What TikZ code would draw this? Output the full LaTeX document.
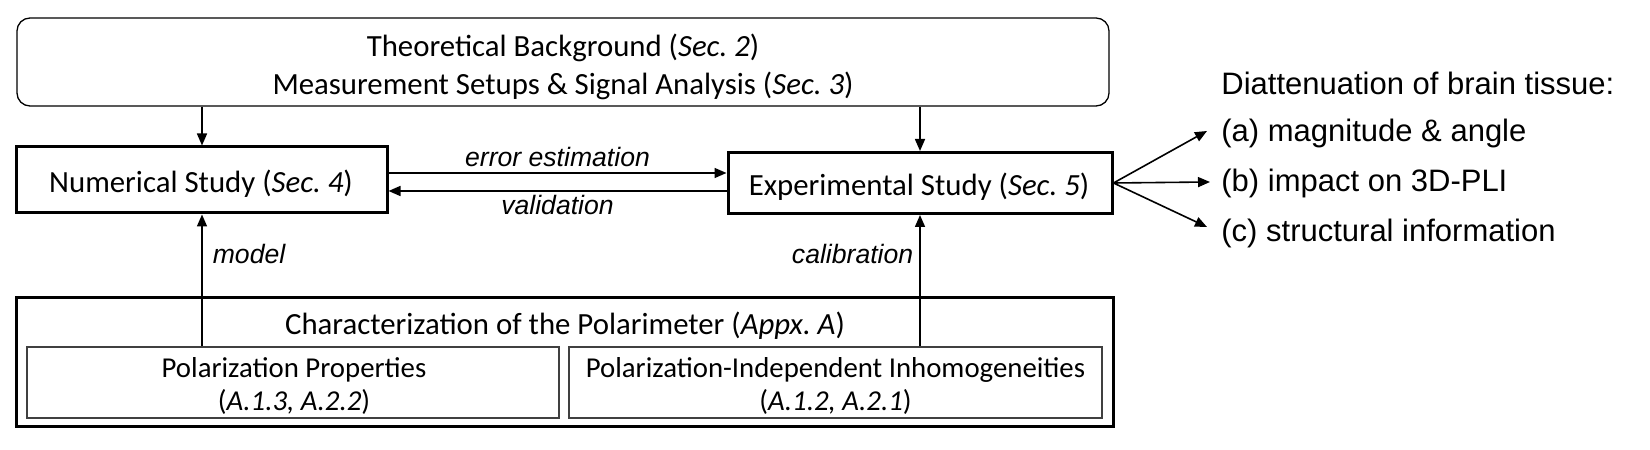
\documentclass[tikz,border=0pt]{standalone}
\usepackage{fontspec}
\setmainfont{Carlito}
\newfontfamily\arialfont{Liberation Sans}
\usetikzlibrary{arrows.meta,calc}
\begin{document}
\begin{tikzpicture}[x=0.5bp,y=-0.5bp,
  maintext/.style={font=\fontsize{15.4bp}{19bp}\selectfont, inner sep=0pt, anchor=base},
  innertext/.style={font=\fontsize{14.4bp}{17bp}\selectfont, inner sep=0pt, anchor=base},
  thickbox/.style={draw, line width=1.5bp, inner sep=0pt},
  thinbox/.style={draw=black!75, line width=0.65bp, inner sep=0pt},
  arr/.style={-{Triangle[length=6bp,width=5bp]}, line width=0.8bp},
  elabel/.style={font=\arialfont\itshape\fontsize{13.3bp}{16bp}\selectfont},
  rtext/.style={font=\arialfont\fontsize{15.5bp}{18bp}\selectfont, anchor=base west, inner sep=0pt}
]
\useasboundingbox (0,0) rectangle (1650,450);

% top rounded box
\node[draw, line width=0.65bp, rounded corners=6.5bp, minimum width=546bp, minimum height=44bp, inner sep=0pt] (top) at (563,62) {};
\node[maintext] (top1) at (563,57) {Theoretical Background (\textit{Sec.\ 2})};
\node[maintext] (top2) at (563,95) {Measurement Setups \& Signal Analysis (\textit{Sec.\ 3})};

% study boxes
\node[thickbox, minimum width=185bp, minimum height=33bp] (num) at (202,180) {};
\node[maintext] (numt) at (201,193) {Numerical Study (\textit{Sec.\ 4})};
\node[thickbox, minimum width=192bp, minimum height=30.5bp] (exp) at (920,183) {};
\node[maintext] (expt) at (919,196) {Experimental Study (\textit{Sec.\ 5})};

% characterization box
\node[thickbox, minimum width=548bp, minimum height=64.5bp] (big) at (565,362.5) {};
\node[maintext] (title) at (565,335) {Characterization of the Polarimeter (\textit{Appx.\ A})};
\node[thinbox, minimum width=266bp, minimum height=35.5bp] (inL) at (293,382.5) {};
\node[innertext] (inL1) at (294,378) {Polarization Properties};
\node[innertext] (inL2) at (294,411) {(\textit{A.1.3, A.2.2})};
\node[thinbox, minimum width=266.5bp, minimum height=35.5bp] (inR) at (835.5,382.5) {};
\node[innertext] (inR1) at (835.5,378) {Polarization-Independent Inhomogeneities};
\node[innertext] (inR2) at (835.5,411) {(\textit{A.1.2, A.2.1})};

% right text
\node[rtext] (hd) at (1221,95) {Diattenuation of brain tissue:};
\node[rtext] (ta) at (1221,142) {(a) magnitude \& angle};
\node[rtext] (tb) at (1221,192) {(b) impact on 3D-PLI};
\node[rtext] (tc) at (1221,242) {(c) structural information};

% connectors
\draw[arr] (num.north |- top.south) -- (num.north);
\draw[arr] (exp.north |- top.south) -- (exp.north);
\draw[arr] ([yshift=3.5bp]num.east) -- ([yshift=3.5bp]num.east -| exp.west)
  node[midway, above, elabel, inner sep=2.5bp] {error estimation};
\draw[arr] ([yshift=-5.5bp]num.east -| exp.west) -- ([yshift=-5.5bp]num.east)
  node[midway, below, elabel, inner sep=1.5bp] {validation};
\draw[arr] (num.south |- inL.north) -- (num.south)
  node[pos=0.7, right, elabel, inner sep=5bp] {model};
\draw[arr] (exp.south |- inR.north) -- (exp.south)
  node[pos=0.7, left, elabel, inner sep=3bp] {calibration};
\draw[arr] (exp.east) -- ([xshift=-7bp,yshift=1.5bp]ta.west);
\draw[arr] (exp.east) -- ([xshift=-5.5bp,yshift=1bp]tb.west);
\draw[arr] (exp.east) -- ([xshift=-7bp,yshift=3.5bp]tc.west);
\end{tikzpicture}
\end{document}
